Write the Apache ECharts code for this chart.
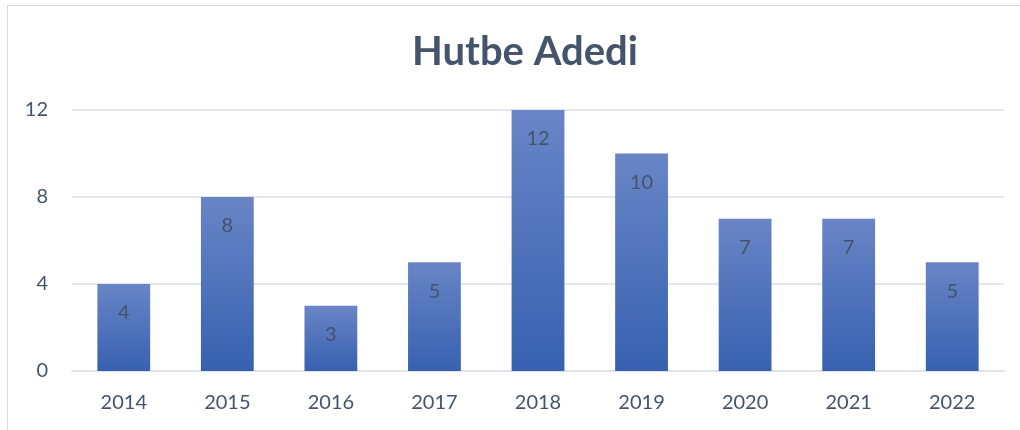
<!DOCTYPE html>
<html>
<head>
<meta charset="utf-8">
<script src="https://cdn.jsdelivr.net/npm/echarts@6/dist/echarts.min.js"></script>
<style>
  html, body { margin: 0; padding: 0; background: #fff; }
  #frame { position: absolute; left: 7px; top: 5px; width: 1030px; height: 440px; border: 1px solid #d9dde3; box-sizing: border-box; }
  #chart { position: absolute; left: 0; top: 0; width: 1020px; height: 430px; }
</style>
</head>
<body>
<div id="frame"></div>
<div id="chart"></div>
<script>
const years = ['2014', '2015', '2016', '2017', '2018', '2019', '2020', '2021', '2022'];
const counts = [4, 8, 3, 5, 12, 10, 7, 7, 5];
const yTicks = [0, 4, 8, 12];

const textColor = '#44546a';
const font = 'Lato, "Open Sans", sans-serif';

const chart = echarts.init(document.getElementById('chart'));
chart.setOption({
  animation: false,
  title: {
    text: 'Hutbe Adedi',
    left: 407,
    top: 27,
    textStyle: { color: textColor, fontSize: 40, fontWeight: 'bold', fontFamily: font }
  },
  grid: { left: 72, right: 16, top: 110, bottom: 59 },
  xAxis: {
    type: 'category',
    data: years,
    axisLine: { lineStyle: { color: '#dfe3ea', width: 2 } },
    axisTick: { show: false },
    axisLabel: { color: textColor, fontSize: 20, fontFamily: font, margin: 22 }
  },
  yAxis: {
    type: 'value',
    min: yTicks[0],
    max: yTicks[yTicks.length - 1],
    interval: 4,
    axisLine: { show: false },
    axisTick: { show: false },
    splitLine: { lineStyle: { color: '#e3e6ec', width: 2 } },
    axisLabel: { color: textColor, fontSize: 20, fontFamily: font, margin: 24 }
  },
  series: [{
    type: 'bar',
    data: counts,
    barWidth: '51%',
    itemStyle: {
      color: new echarts.graphic.LinearGradient(0, 0, 0, 1, [
        { offset: 0, color: '#6985c6' },
        { offset: 1, color: '#3761b0' }
      ])
    },
    label: {
      show: true,
      position: 'insideTop',
      distance: 19,
      color: textColor,
      fontSize: 20,
      fontFamily: font
    }
  }]
});
</script>
</body>
</html>
